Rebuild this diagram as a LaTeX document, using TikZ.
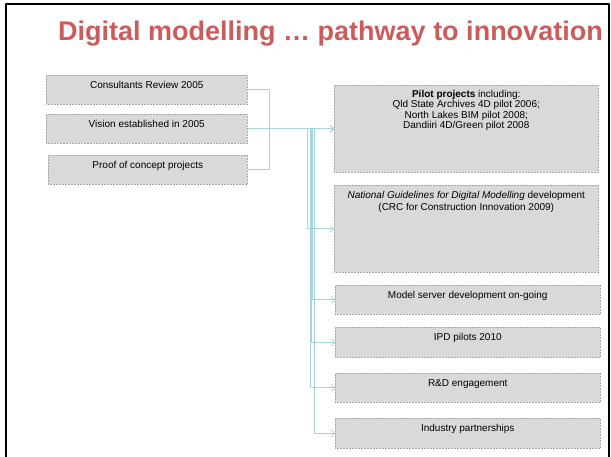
\documentclass[tikz,border=0pt]{standalone}
\usepackage{fontspec}
\setmainfont{Liberation Sans}
\usetikzlibrary{arrows.meta}
\definecolor{titlered}{RGB}{204,92,92}
\definecolor{boxgray}{RGB}{217,217,217}
\definecolor{edgegray}{RGB}{168,168,168}
\definecolor{linkblue}{RGB}{165,212,222}
\begin{document}
\begin{tikzpicture}[x=1pt, y=-1pt, line join=round,
		box/.style={draw=edgegray, densely dotted, line width=0.5pt, fill=boxgray, anchor=north west, inner sep=0pt},
		txt/.style={anchor=north, align=center, inner sep=0pt, yshift=-6pt, font=\fontsize{10}{11.6}\selectfont},
		link/.style={draw=linkblue, line width=0.7pt, -{Straight Barb[length=3.5pt,width=7pt]}}]
	\useasboundingbox (0,0) rectangle (611,457);
	% slide frame and heading
	\draw[line width=2pt] (6,457) -- (6,4.5) -- (609,4.5) -- (609,457);
	\node[anchor=base west, inner sep=0pt, text=titlered, font=\fontsize{27}{30}\selectfont\bfseries] (title) at (58,41) {Digital modelling … pathway to innovation};
	% left column
	\node[box, minimum width=201pt, minimum height=29pt, label={[txt]north:Consultants Review 2005}] (review) at (46,75) {};
	\node[box, minimum width=201pt, minimum height=29pt, label={[txt]north:Vision established in 2005}] (vision) at (46,114) {};
	\node[box, minimum width=199pt, minimum height=29pt, label={[txt]north:Proof of concept projects}] (proof) at (48,155) {};
	% right column
	\node[box, minimum width=264pt, minimum height=87pt, label={[txt, yshift=1pt, font=\fontsize{10}{10.5}\selectfont]north:{\textbf{Pilot projects} including:\\Qld State Archives 4D pilot 2006;\\North Lakes BIM pilot 2008;\\Dandiiri 4D/Green pilot 2008}}] (pilot) at (334,85) {};
	\node[box, minimum width=264pt, minimum height=87pt, label={[txt]north:{\textit{National Guidelines for Digital Modelling} development\\(CRC for Construction Innovation 2009)}}] (guide) at (334,185) {};
	\node[box, minimum width=265pt, minimum height=29pt, label={[txt]north:Model server development on-going}] (server) at (335,285) {};
	\node[box, minimum width=265pt, minimum height=30pt, label={[txt]north:IPD pilots 2010}] (ipd) at (335,327) {};
	\node[box, minimum width=265pt, minimum height=29pt, label={[txt]north:R\&D engagement}] (rnd) at (335,373) {};
	\node[box, minimum width=265pt, minimum height=30pt, label={[txt]north:Industry partnerships}] (partner) at (335,418) {};
	% connectors
	\draw[link] (review.east) -- ++(22,0) |- (pilot.west);
	\draw[link] (proof.east) -- ++(22,0) |- (pilot.west);
	\draw[link] (vision.east) -- (pilot.west);
	\draw[link] (vision.east) -- ++(60,0) |- (guide.west);
	\draw[link] (vision.east) -- ++(65,0) |- (server.west);
	\draw[link] (vision.east) -- ++(64,0) |- (ipd.west);
	\draw[link] (vision.east) -- ++(63,0) |- (rnd.west);
	\draw[link] (vision.east) -- ++(67,0) |- (partner.west);
\end{tikzpicture}
\end{document}
